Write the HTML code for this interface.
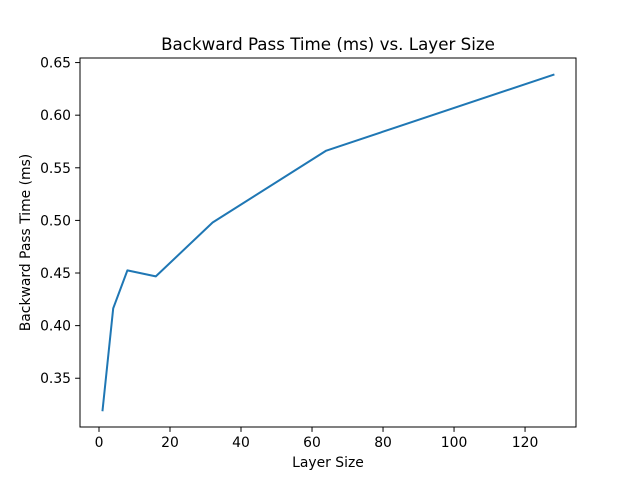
<!DOCTYPE html>
<html><head><meta charset="utf-8"><style>
body{margin:0;background:#fff}
svg{display:block;font-family:"DejaVu Sans","Liberation Sans",sans-serif}
</style></head><body>
<svg id="chart" width="640" height="480" viewBox="0 0 640 480">
<rect width="640" height="480" fill="#fff"/>
<text x="328" y="50" text-anchor="middle" font-size="16.7">Backward Pass Time (ms) vs. Layer Size</text>
<text x="328" y="467" text-anchor="middle" font-size="13.9">Layer Size</text>
<text transform="translate(30,242.5) rotate(-90)" text-anchor="middle" font-size="13.9">Backward Pass Time (ms)</text>
<g id="xticks"></g><g id="yticks"></g>
<path id="line" fill="none" stroke="#1f77b4" stroke-width="2" stroke-linejoin="round" stroke-linecap="square"/>
<rect x="80" y="58" width="496" height="369" fill="none" stroke="#000" stroke-width="1"/>
</svg>
<script>
const layerSizes=[1,4,8,16,32,64,128];
const backwardTimes=[0.3196,0.4164,0.4525,0.4468,0.498,0.5663,0.6384];
const xTickLabels=[0,20,40,60,80,100,120];
const yTickLabels=[0.35,0.40,0.45,0.50,0.55,0.60,0.65];
const L=80,R=576,T=58,B=427;
const xmin=Math.min(...layerSizes),xmax=Math.max(...layerSizes);
const ymin=Math.min(...backwardTimes),ymax=Math.max(...backwardTimes);
const xm=(xmax-xmin)*0.05,ym=(ymax-ymin)*0.05;
const X=v=>L+(v-(xmin-xm))/((xmax+xm)-(xmin-xm))*(R-L);
const Y=v=>B-(v-(ymin-ym))/((ymax+ym)-(ymin-ym))*(B-T);
const ns="http://www.w3.org/2000/svg";
const xg=document.getElementById('xticks'),yg=document.getElementById('yticks');
xTickLabels.forEach(v=>{
 const x=X(v);
 const l=document.createElementNS(ns,'line');
 l.setAttribute('x1',x);l.setAttribute('x2',x);l.setAttribute('y1',B);l.setAttribute('y2',B+4.9);l.setAttribute('stroke','#000');l.setAttribute('stroke-width','1');
 
 
 xg.appendChild(l);
 const t=document.createElementNS(ns,'text');
 t.setAttribute('x',x);t.setAttribute('y',B+20);t.setAttribute('text-anchor','middle');t.setAttribute('font-size','13.9');
 t.textContent=v;
 
 
 xg.appendChild(t);
});
yTickLabels.forEach(v=>{
 const y=Y(v);
 const l=document.createElementNS(ns,'line');
 l.setAttribute('x1',L-4.9);l.setAttribute('x2',L);l.setAttribute('y1',y);l.setAttribute('y2',y);l.setAttribute('stroke','#000');l.setAttribute('stroke-width','1');
 
 
 yg.appendChild(l);
 const t=document.createElementNS(ns,'text');
 t.setAttribute('x',L-9);t.setAttribute('y',y+5);t.setAttribute('text-anchor','end');t.setAttribute('font-size','13.9');
 t.textContent=v.toFixed(2);
 
 
 yg.appendChild(t);
});
document.getElementById('line').setAttribute('d',layerSizes.map((v,i)=>(i?'L':'M')+X(v).toFixed(2)+','+Y(backwardTimes[i]).toFixed(2)).join(' '));
</script>
</body></html>
